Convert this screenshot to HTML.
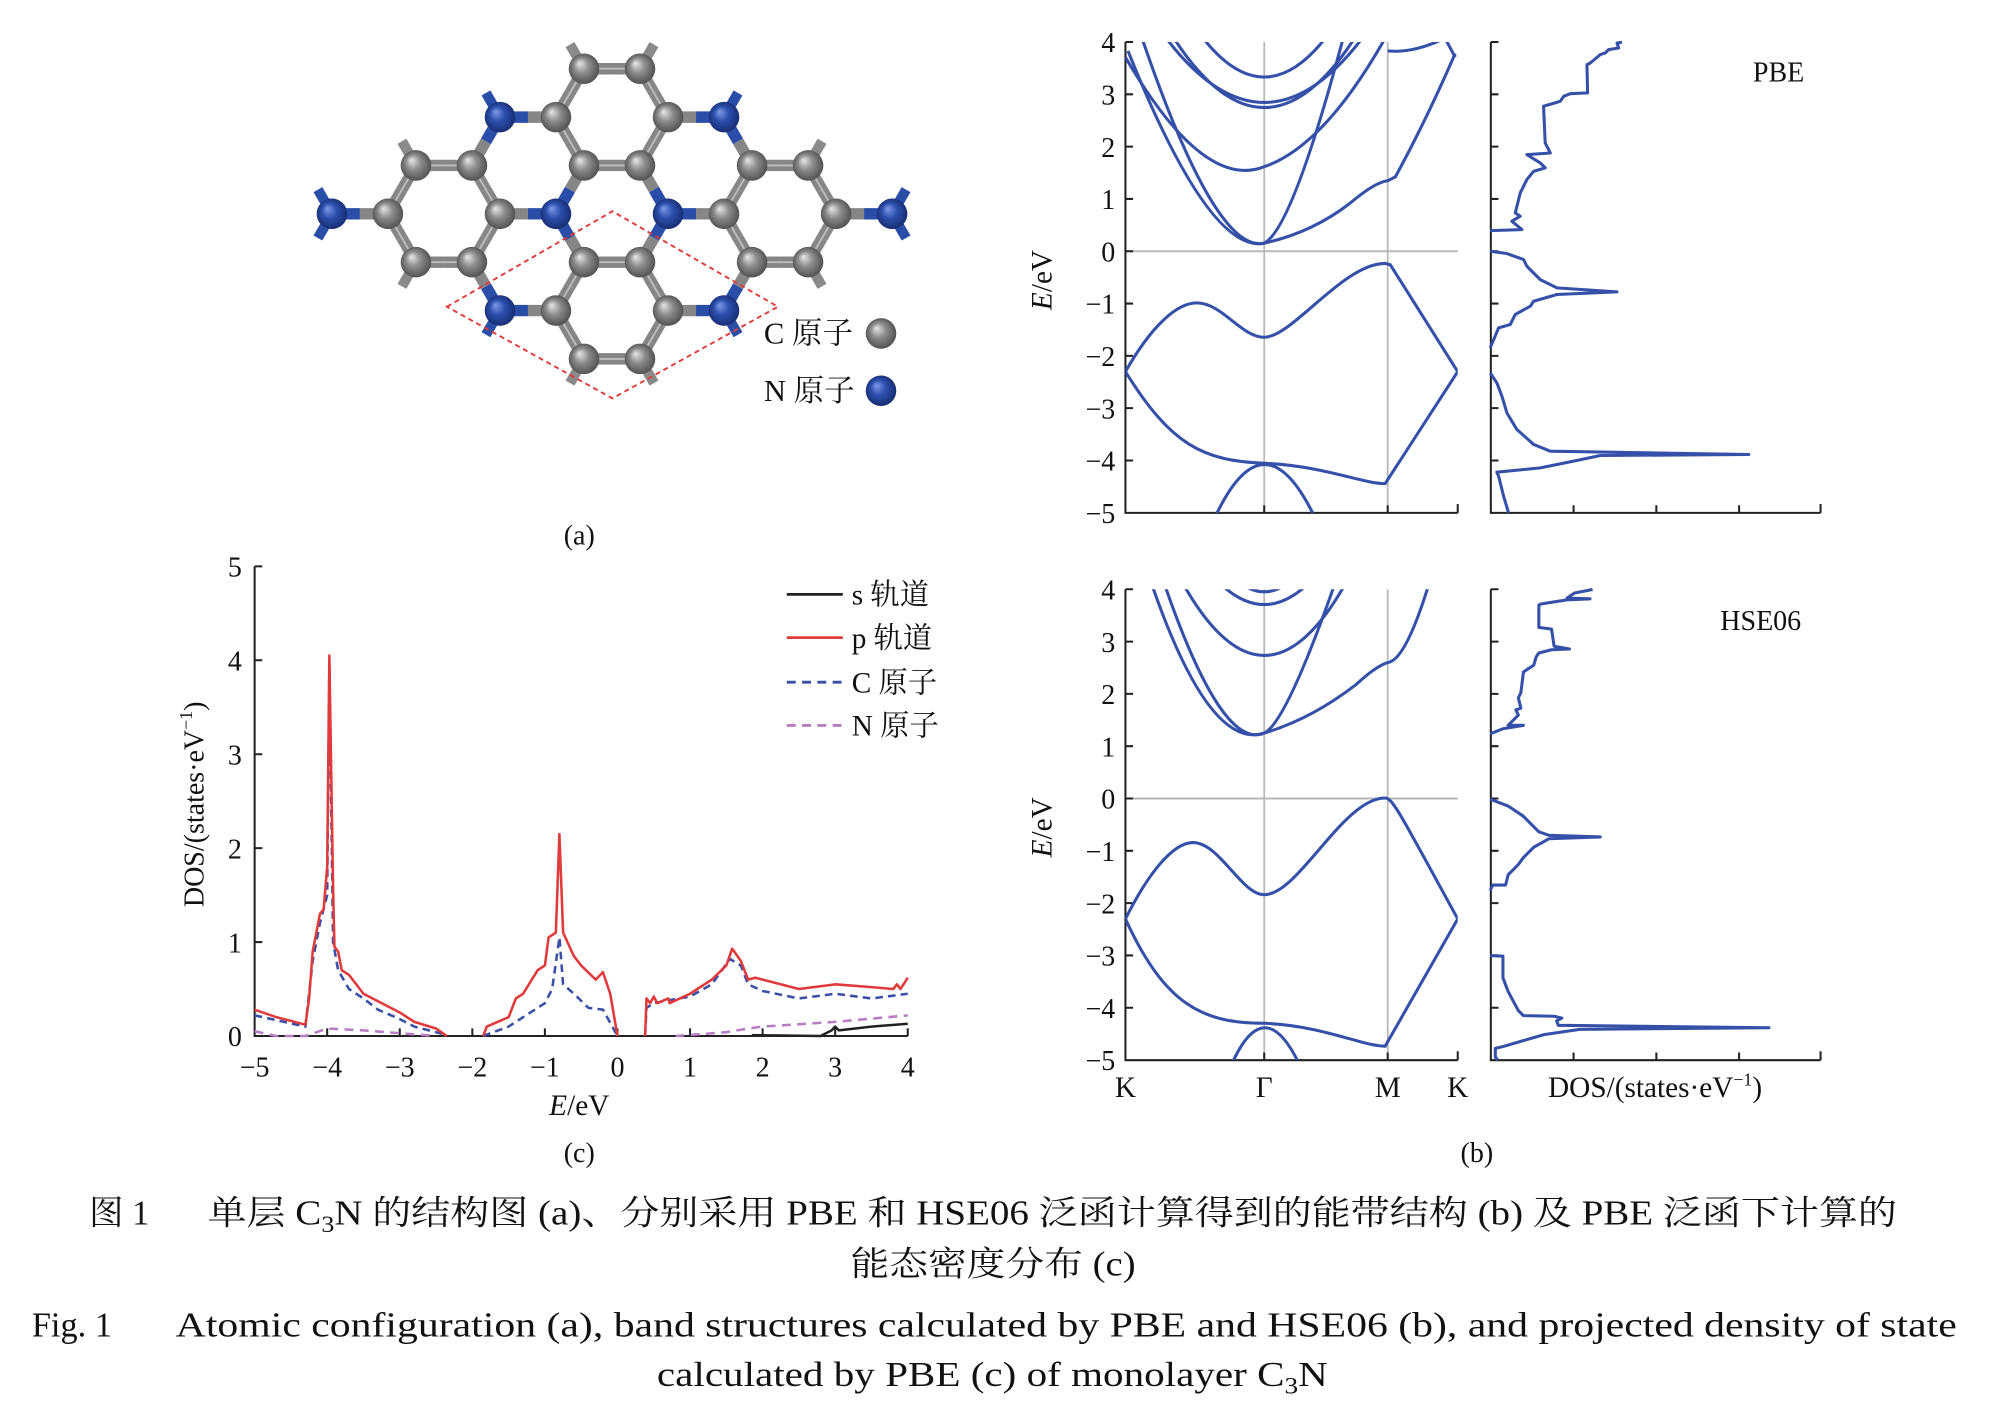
<!DOCTYPE html>
<html><head><meta charset="utf-8"><style>
html,body{margin:0;padding:0;background:#fff;}
svg{display:block;}
text{font-family:"Liberation Serif","Noto Serif CJK SC",serif;fill:#111;}
</style></head><body>
<svg id="s" xmlns="http://www.w3.org/2000/svg" width="1995" height="1409" viewBox="0 0 1567 1096" preserveAspectRatio="none">
<defs>
<radialGradient id="gG" cx="50%" cy="50%" r="55%" fx="35%" fy="32%"><stop offset="0" stop-color="#e8e8e8"/><stop offset="0.45" stop-color="#8c8c8c"/><stop offset="1" stop-color="#4a4a4a"/></radialGradient>
<radialGradient id="gB" cx="50%" cy="50%" r="55%" fx="35%" fy="32%"><stop offset="0" stop-color="#7f9ce8"/><stop offset="0.45" stop-color="#2c4fae"/><stop offset="1" stop-color="#16296a"/></radialGradient>
</defs>
<g transform="scale(1,0.99)">
<g id="mol"></g>
<polygon points="351,241 481,166 611,241 481,313" fill="none" stroke="#e23a3a" stroke-width="1.5" stroke-dasharray="4,3"/>
<text x="600" y="270" font-size="24">C 原子</text>
<circle cx="692" cy="262" r="12" fill="url(#gG)"/>
<text x="600" y="315" font-size="24">N 原子</text>
<circle cx="692" cy="307" r="12" fill="url(#gB)"/>
<text x="455" y="428" font-size="22" text-anchor="middle">(a)</text>

<g stroke="#222" stroke-width="1.6" fill="none">
<path d="M200 445 V814 H713"/>
<path id="cticks" d=""/>
</g>
<g id="cl" font-size="22"></g>
<text font-size="22" transform="translate(160,632) rotate(-90)" text-anchor="middle">DOS/(states·eV<tspan font-size="14" dy="-9">−1</tspan><tspan dy="9">)</tspan></text>
<text x="455" y="876" font-size="23" text-anchor="middle"><tspan font-style="italic">E</tspan>/eV</text>
<text x="455" y="913" font-size="22" text-anchor="middle">(c)</text>
<g id="dosc" fill="none" stroke-width="2"></g>
<g stroke-width="2.2">
<line x1="618" y1="467" x2="662" y2="467" stroke="#222"/>
<line x1="618" y1="501" x2="662" y2="501" stroke="#e03a3a"/>
<line x1="618" y1="536" x2="662" y2="536" stroke="#3a4fa8" stroke-dasharray="7,5"/>
<line x1="618" y1="570" x2="662" y2="570" stroke="#b87cc4" stroke-dasharray="7,5"/>
</g>
<g font-size="23">
<text x="669" y="475">s 轨道</text>
<text x="669" y="509">p 轨道</text>
<text x="669" y="544">C 原子</text>
<text x="669" y="578">N 原子</text>
</g>

<g id="bands"></g>
<text x="1397" y="64" font-size="22" text-anchor="middle">PBE</text>
<text x="1383" y="495" font-size="22" text-anchor="middle">HSE06</text>
<g font-size="23" text-anchor="middle">
<text x="884" y="862">K</text><text x="993" y="862">Γ</text><text x="1090" y="862">M</text><text x="1145" y="862">K</text>
<text x="1300" y="862">DOS/(states·eV<tspan font-size="14" dy="-9">−1</tspan><tspan dy="9">)</tspan></text>
</g>
<text x="1160" y="913" font-size="22" text-anchor="middle">(b)</text>
<text font-size="23" transform="translate(826,220) rotate(-90)" text-anchor="middle"><tspan font-style="italic">E</tspan>/eV</text>
<text font-size="23" transform="translate(826,650) rotate(-90)" text-anchor="middle"><tspan font-style="italic">E</tspan>/eV</text>

<g font-size="27">
<text x="70" y="962">图 1</text>
<text x="163" y="962" textLength="1327" lengthAdjust="spacingAndGlyphs">单层 C<tspan font-size="18" dy="6">3</tspan><tspan dy="-6">N 的结构图 (a)、分别采用 PBE 和 HSE06 泛函计算得到的能带结构 (b) 及 PBE 泛函下计算的</tspan></text>
<text x="668" y="1002" textLength="224" lengthAdjust="spacingAndGlyphs">能态密度分布 (c)</text>
<text x="25" y="1050">Fig. 1</text>
<text x="138" y="1050" textLength="1399" lengthAdjust="spacingAndGlyphs">Atomic configuration (a), band structures calculated by PBE and HSE06 (b), and projected density of state</text>
<text x="516" y="1089" textLength="527" lengthAdjust="spacingAndGlyphs">calculated by PBE (c) of monolayer C<tspan font-size="18" dy="6">3</tspan><tspan dy="-6">N</tspan></text>
</g>
</g>
</svg>
<script>
const NS="http://www.w3.org/2000/svg";
function el(t,a,p){const e=document.createElementNS(NS,t);for(const k in a)e.setAttribute(k,a[k]);p.appendChild(e);return e;}
function txt(t,a,p){const e=el('text',a,p);e.textContent=t;return e;}
(function(){
const g=document.getElementById('mol');const a=44,h=38;
const C=[[480.7,92],[480.7,168],[480.7,244],[414.7,130],[414.7,206],[546.7,130],[546.7,206],[348.7,168],[612.7,168]];
const off=[[a,0],[a/2,h],[-a/2,h],[-a,0],[-a/2,-h],[a/2,-h]];
const V=[];
function add(x,y){for(const v of V)if(Math.hypot(v[0]-x,v[1]-y)<5)return;V.push([x,y]);}
C.forEach(c=>off.forEach(o=>add(c[0]+o[0],c[1]+o[1])));
add(260.7,168);add(700.7,168);
const Nl=[[392.7,92],[568.7,92],[436.7,168],[524.7,168],[392.7,244],[568.7,244],[260.7,168],[700.7,168]];
const isN=v=>Nl.some(n=>Math.hypot(n[0]-v[0],n[1]-v[1])<5);
const col=v=>isN(v)?'#2a4ea8':'#868686';
const st=[[458.7,54,-1,-1],[502.7,54,1,-1],[392.7,92,-1,-1],[568.7,92,1,-1],[326.7,130,-1,-1],[634.7,130,1,-1],[326.7,206,-1,1],[634.7,206,1,1],[392.7,244,-1,1],[568.7,244,1,1],[458.7,282,-1,1],[502.7,282,1,1],[260.7,168,-1,-1],[260.7,168,-1,1],[700.7,168,1,-1],[700.7,168,1,1]];
st.forEach(s=>{el('line',{x1:s[0],y1:s[1],x2:s[0]+s[2]*11,y2:s[1]+s[3]*19,stroke:isN(s)?'#2a4ea8':'#8a8a8a','stroke-width':8},g);});
for(let i=0;i<V.length;i++)for(let j=i+1;j<V.length;j++){const p=V[i],q=V[j];const d=Math.hypot(p[0]-q[0],p[1]-q[1]);if(d>38&&d<50){const mx=(p[0]+q[0])/2,my=(p[1]+q[1])/2;
el('line',{x1:p[0],y1:p[1],x2:mx,y2:my,stroke:col(p),'stroke-width':9},g);
el('line',{x1:mx,y1:my,x2:q[0],y2:q[1],stroke:col(q),'stroke-width':9},g);
if(!isN(p)&&!isN(q))el('line',{x1:p[0],y1:p[1],x2:q[0],y2:q[1],stroke:'#bdbdbd','stroke-width':1.5},g);}}
V.forEach(v=>el('circle',{cx:v[0],cy:v[1],r:12,fill:isN(v)?'url(#gB)':'url(#gG)'},g));
})();
(function(){
const X=E=>200+57*(E+5),Y=v=>814-73.8*v;
let d='';for(let e=-4;e<=4;e++)d+=`M${X(e)} 814 v-6 `;for(let v=1;v<=5;v++)d+=`M200 ${Y(v)} h6 `;
document.getElementById('cticks').setAttribute('d',d);
const cl=document.getElementById('cl');
for(let e=-5;e<=4;e++)txt(e<0?'−'+(-e):''+e,{x:X(e),y:846,'text-anchor':'middle'},cl);
for(let v=0;v<=5;v++)txt(''+v,{x:190,y:Y(v)+8,'text-anchor':'end'},cl);
const g=document.getElementById('dosc');
function seg(arrs,stroke,dash){arrs.forEach(pts=>{el('polyline',{points:pts.map(p=>X(p[0]).toFixed(1)+','+Y(p[1]).toFixed(1)).join(' '),stroke:stroke,'stroke-dasharray':dash||'none','stroke-linejoin':'round'},g);});}
seg([[[1.85,0.01],[2.8,0.0],[2.95,0.06],[3.0,0.1],[3.05,0.06],[3.5,0.1],[4,0.13]]],'#222');
seg([[[-5,0.05],[-4.7,0.0],[-4.3,0.0],[-4.0,0.08],[-3.5,0.06],[-3,0.03],[-2.5,0.0]],[[0.8,0],[1.5,0.04],[1.8,0.08],[2.0,0.1],[3,0.15],[4,0.22]]],'#b87cc4','7,5');
seg([[[-5,0.22],[-4.3,0.1],[-4.2,0.8],[-4.1,1.2],[-4.0,1.5],[-3.97,3.95],[-3.92,1.0],[-3.85,0.7],[-3.7,0.5],[-3.5,0.4],[-3.3,0.28],[-3.0,0.18],[-2.8,0.1],[-2.4,0.02]],
[[-1.85,0],[-1.5,0.1],[-1.2,0.25],[-1.0,0.35],[-0.9,0.5],[-0.8,1.05],[-0.75,0.55],[-0.6,0.45],[-0.4,0.3],[-0.2,0.28],[0,0]],
[[0.38,0],[0.4,0.3],[0.5,0.35],[0.7,0.38],[1.0,0.42],[1.3,0.55],[1.55,0.82],[1.7,0.75],[1.8,0.55],[2.0,0.48],[2.5,0.4],[3,0.45],[3.5,0.4],[4,0.45]]],'#3a4fa8','6,4');
seg([[[-5,0.28],[-4.7,0.2],[-4.3,0.12],[-4.25,0.4],[-4.2,0.9],[-4.1,1.3],[-4.05,1.35],[-4.0,1.8],[-3.97,4.05],[-3.92,1.6],[-3.9,0.95],[-3.85,0.9],[-3.8,0.7],[-3.7,0.65],[-3.5,0.45],[-3.3,0.37],[-3.0,0.25],[-2.8,0.15],[-2.5,0.08],[-2.35,0.0]],
[[-1.85,0],[-1.8,0.1],[-1.5,0.2],[-1.4,0.4],[-1.3,0.45],[-1.1,0.7],[-1.0,0.75],[-0.95,1.05],[-0.85,1.1],[-0.8,2.15],[-0.75,1.1],[-0.6,0.85],[-0.5,0.75],[-0.3,0.6],[-0.2,0.68],[-0.1,0.45],[0,0.0]],
[[0.38,0],[0.4,0.4],[0.45,0.35],[0.5,0.42],[0.55,0.35],[0.7,0.4],[0.72,0.35],[1.0,0.45],[1.3,0.6],[1.5,0.75],[1.58,0.93],[1.7,0.8],[1.8,0.6],[1.9,0.62],[2.5,0.5],[3,0.55],[3.5,0.52],[3.8,0.5],[3.85,0.55],[3.9,0.5],[4,0.62]]],'#e03a3a');
})();
(function(){
const g=document.getElementById('bands');const BL='#3450a8';
function panel(top,paths,dos,dx,dy,dfx,dfy){
 const Y=E=>top+164.4-41.1*E;const bot=top+370;
 el('line',{x1:993,y1:top,x2:993,y2:bot,stroke:'#b8b8b8','stroke-width':1.4},g);
 el('line',{x1:1090,y1:top,x2:1090,y2:bot,stroke:'#b8b8b8','stroke-width':1.4},g);
 el('line',{x1:884,y1:Y(0),x2:1145,y2:Y(0),stroke:'#b8b8b8','stroke-width':1.6},g);
 let d=`M884 ${top} V${bot} H1145 M993 ${bot} v-6 M1090 ${bot} v-6 M1145 ${bot} v-7 M1171 ${top} V${bot} H1430 M1236 ${bot} v-6 M1301 ${bot} v-6 M1366 ${bot} v-6 M1430 ${bot} v-7 `;
 for(let e=-4;e<=4;e++){d+=`M884 ${Y(e)} h6 M1171 ${Y(e)} h6 `;}
 d+=`M1171 ${top} h6 M884 ${top} h6`;
 el('path',{d:d,stroke:'#222','stroke-width':1.6,fill:'none'},g);
 for(let e=-5;e<=4;e++)txt(e<0?'−'+(-e):''+e,{x:876,y:Y(e)+8,'text-anchor':'end','font-size':22},g);
 const cp=el('clipPath',{id:'cp'+top},g);el('rect',{x:884,y:top,width:261,height:370},cp);
 const gg=el('g',{'clip-path':`url(#cp${top})`},g);
 paths.forEach(p=>el('path',{d:p,stroke:BL,'stroke-width':2.4,fill:'none'},gg));
 dos.forEach(seg=>el('polyline',{points:seg.map(p=>(1170.5+(p[0]-dx)*dfx).toFixed(1)+','+(dy+p[1]*dfy).toFixed(1)).join(' '),stroke:BL,'stroke-width':2.4,fill:'none','stroke-linejoin':'round'},g));
}
panel(33,[
'M886 40 Q950 200 993 191 Q1030 183 1060 160 Q1080 143 1090 142 L1096 139 Q1120 95 1143 42',
'M897 30 Q955 200 993 191 Q1015 180 1055 30',
'M884 45 Q945 150 993 131 Q1040 115 1088 30',
'M922 30 Q993 139 1064 30',
'M916 30 Q993 131 1070 30',
'M945 30 Q993 91 1041 30',
'M1090 40 Q1110 42 1135 30',
'M1143 45 L1135 30',
'M884 292 C905 255 925 238 940 238 C960 238 975 265 993 265 C1015 265 1055 207 1088 207 L1092 208 L1145 292',
'M884 292 C920 350 945 362 993 364 C1040 366 1070 380 1088 380 L1145 292',
'M955 405 Q993 325 1032 405'
],[
[[395,38],[380,40],[385,55],[355,60],[345,70],[330,75],[300,100],[290,105],[292,190],[240,192],[220,200],[210,215],[160,230],[165,340],[180,370],[110,375],[150,400],[165,415],[130,425],[110,450],[90,490],[75,550],[90,560],[65,575],[95,600],[0,603]],
[[0,665],[50,672],[100,690],[110,710],[150,750],[200,775],[380,787],[200,795],[130,815],[120,830],[75,855],[60,885],[25,895],[0,955]],
[[0,1030],[20,1060],[35,1100],[50,1150],[80,1200],[130,1245],[180,1265],[775,1275],[330,1278],[250,1295],[150,1315],[20,1328],[25,1340],[40,1400],[55,1450]]
],0,23.3,0.2621,0.2618);
panel(463,[
'M905 460 Q950 590 993 576 Q1030 565 1065 538 Q1082 522 1092 520 Q1105 515 1122 460',
'M915 460 Q960 590 993 576 Q1010 568 1048 460',
'M930 460 Q993 570 1056 460',
'M960 460 Q993 490 1026 460',
'M977 460 Q993 470 1009 460',
'M884 722 C900 690 920 662 937 662 C958 662 975 703 993 703 C1020 703 1055 627 1088 627 C1094 627 1100 640 1145 722',
'M884 722 C915 790 945 804 993 804 C1040 806 1070 822 1088 822 L1145 722',
'M968 835 Q993 780 1020 835'
],[
[[965,30],[930,40],[915,55],[960,57],[915,60],[865,72],[860,75],[860,140],[885,145],[890,195],[920,203],[885,205],[860,215],[855,225],[850,250],[830,270],[825,330],[820,345],[825,375],[815,380],[820,395],[800,425],[830,425],[790,435],[765,450]],
[[765,640],[800,660],[830,690],[860,735],[880,745],[980,750],[880,755],[850,780],[830,810],[820,830],[810,845],[800,860],[795,890],[770,890],[765,905]],
[[765,1095],[790,1097],[790,1160],[800,1200],[820,1255],[830,1270],[890,1272],[905,1277],[895,1285],[898,1298],[1310,1305],[940,1310],[870,1325],[790,1360],[775,1365],[775,1390],[780,1400]]
],765,455.1,0.4019,0.27);
})();
</script>
</body></html>
